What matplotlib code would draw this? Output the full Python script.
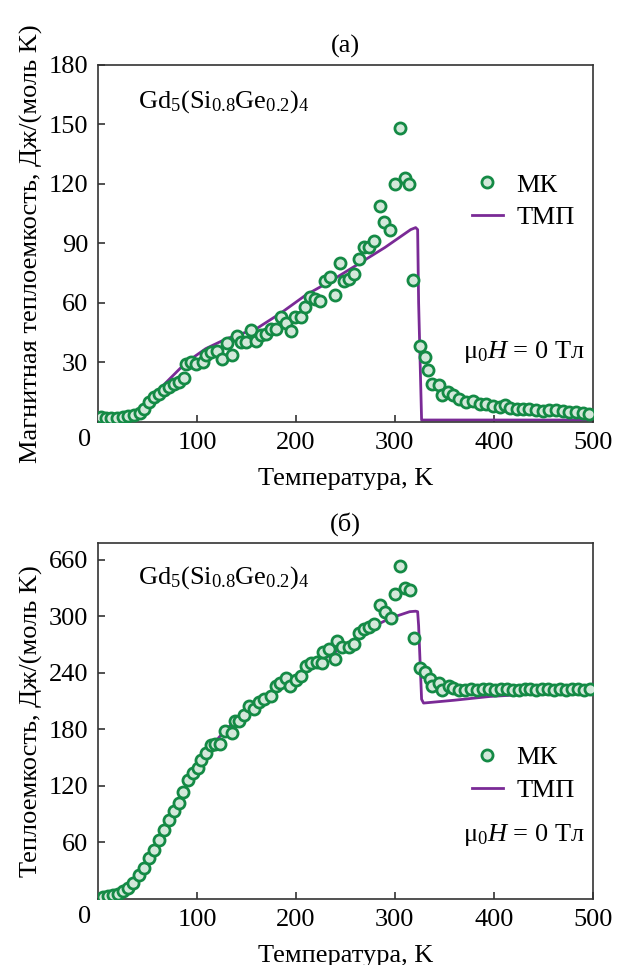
import matplotlib
matplotlib.use("Agg")
import matplotlib.pyplot as plt

plt.rcParams['font.family'] = ['Liberation Serif', 'DejaVu Serif']
plt.rcParams['mathtext.fontset'] = 'custom'
plt.rcParams['mathtext.rm'] = 'Liberation Serif'
plt.rcParams['mathtext.it'] = 'Liberation Serif:italic'
FS = 19
plt.rcParams['font.size'] = FS

# (а) магнитная теплоемкость, МК
t_mag = [3, 8, 13, 19, 25, 30, 36, 42, 47, 52, 57, 62, 67, 72, 77, 82, 87, 89, 94, 99, 106, 109,
         114, 120, 125, 130, 135, 140, 145, 150, 155, 160, 165, 170, 175, 180, 185, 190, 195, 199,
         205, 209, 214, 219, 224, 229, 234, 240, 245, 249, 254, 259, 264, 269, 274, 279, 285, 289,
         295, 300, 305, 310, 314, 318, 325, 330, 333, 338, 345, 348, 354, 359, 365, 372, 379, 386,
         392, 399, 406, 411, 416, 423, 429, 436, 443, 450, 456, 463, 470, 476, 483, 490, 496]
c_mag = [2.5, 2.2, 2.2, 2.2, 2.5, 3.0, 3.5, 4.7, 6.7, 10, 12.6, 14, 16, 17.6, 19, 20.4, 22, 29, 30,
         29, 30, 34, 35.5, 36, 32, 40, 34, 43.6, 40.5, 40.5, 46.6, 41, 44, 44.4, 47, 47, 53, 50,
         46, 53, 53, 58, 63, 62, 61, 71, 73, 64, 80, 71, 72, 74.6, 82, 88, 88, 91, 109, 101, 97,
         120, 148, 123, 120, 71.6, 38.5, 32.7, 26, 19, 18.8, 13.7, 15, 13.7, 11.7, 10, 10.4, 9.2,
         8.9, 7.9, 7.5, 8.4, 7, 6.7, 6.7, 6.7, 5.9, 5.4, 5.9, 5.9, 5.4, 5, 5, 4.5, 4.2]

# (а) ТМП
t_mag_tmp = [2, 25, 40, 59, 75, 89, 109, 130, 160, 185, 210, 235, 261, 290, 316, 321, 323, 324, 327, 500]
c_mag_tmp = [1, 1, 6, 15, 23, 30, 37, 42, 47, 55, 64, 71, 79, 88, 97, 98, 97, 60, 1, 1]

# (б) теплоемкость, МК
t_tot = [5, 10, 15, 20, 25, 30, 35, 41, 47, 52, 57, 62, 67, 72, 77, 82, 86, 91, 96, 101, 104, 109,
         114, 118, 123, 128, 135, 138, 143, 148, 153, 158, 163, 168, 175, 180, 184, 190, 194, 200,
         205, 210, 215, 221, 226, 227, 233, 240, 242, 247, 254, 259, 264, 269, 274, 279, 285, 290,
         296, 300, 305, 310, 315, 319, 325, 330, 335, 338, 345, 348, 355, 359, 365, 371, 377, 383,
         389, 395, 401, 407, 413, 419, 425, 431, 437, 443, 449, 455, 461, 467, 473, 479, 485, 491, 497]
c_tot = [2, 3.5, 4.6, 5.7, 8, 11.7, 17, 25, 33, 43.6, 52, 63, 73, 83.6, 93, 102, 114, 126, 134, 139,
         148, 155, 163, 165, 165, 178, 176, 189, 189, 195, 205, 202, 209, 212.6, 215, 226, 229, 235,
         226, 233, 237, 247, 251, 251.5, 250, 262, 265, 255, 274, 267, 267, 271, 282, 287, 289, 291.6,
         312, 305, 298, 324, 354, 330, 328, 277, 245.5, 241, 234, 226, 229, 222, 226, 224, 222, 222,
         223, 222, 222.5, 223, 222, 222.5, 223, 222, 222, 222.5, 223, 222, 222.5, 223, 222, 223,
         222, 222.5, 223, 222, 222.5]

# (б) ТМП
t_tot_tmp = [2, 25, 35, 47, 59, 72, 86, 99, 112, 126, 143, 160, 177, 194, 210, 227, 244, 261, 278,
             295, 315, 321, 323, 324, 327, 329, 360, 396, 429, 500]
c_tot_tmp = [1, 3.5, 10, 31, 56, 84, 113, 137, 159, 176, 194, 208, 221, 233, 244, 254, 265, 277, 289,
             298, 305, 305.5, 305, 290, 212, 208, 211, 215, 217, 218]

green = '#148a45'
face = '#d3e8da'
purple = '#7a2a96'

fig = plt.figure(figsize=(6.32, 9.65), dpi=100)
ax1 = fig.add_axes([0.155, 0.5627, 0.783, 0.370])
ax2 = fig.add_axes([0.155, 0.0684, 0.783, 0.369])


def style(ax):
    for s in ax.spines.values():
        s.set_color('#333333')
        s.set_linewidth(1.2)
    ax.tick_params(direction='in', length=5, width=1.2, color='#333333', pad=7, labelsize=FS)
    ax.set_xlim(0, 500)
    ax.set_xticks([100, 200, 300, 400, 500])
    ax.text(-0.028, -0.05, '0', transform=ax.transAxes, ha='center', va='center', fontsize=FS)
    ax.set_xlabel('Температура, K', fontsize=FS, labelpad=10)


def legend(ax, y):
    h, l = ax.get_legend_handles_labels()
    ax.legend(h[::-1], l[::-1], loc='upper left', bbox_to_anchor=(0.755, y), frameon=False,
              borderaxespad=0, borderpad=0, handlelength=1.2, handletextpad=0.5,
              labelspacing=0.35, fontsize=FS)


ax1.plot(t_mag_tmp, c_mag_tmp, color=purple, lw=2, label='ТМП', zorder=2)
ax1.plot(t_mag, c_mag, 'o', ms=8, mfc=face, mec=green, mew=2, label='МК', zorder=3)
style(ax1)
ax1.set_ylim(0, 180)
ax1.set_yticks([30, 60, 90, 120, 150, 180])
ax1.set_ylabel('Магнитная теплоемкость, Дж/(моль K)', fontsize=FS, labelpad=4)
ax1.set_title('(а)', fontsize=FS, pad=9)
ax1.text(0.081, 0.896, 'Gd$_5$(Si$_{0.8}$Ge$_{0.2}$)$_4$', transform=ax1.transAxes,
         va='center', fontsize=FS)
ax1.text(0.737, 0.196, 'μ$_0$$H$ = 0 Тл', transform=ax1.transAxes, va='center', fontsize=FS)
legend(ax1, 0.697)

ax2.plot(t_tot_tmp, c_tot_tmp, color=purple, lw=2, label='ТМП', zorder=2)
ax2.plot(t_tot, c_tot, 'o', ms=8, mfc=face, mec=green, mew=2, label='МК', zorder=3)
style(ax2)
ax2.set_ylim(0, 378)
ax2.set_yticks([60, 120, 180, 240, 300, 360])
ax2.set_yticklabels(['60', '120', '180', '240', '300', '660'])
ax2.set_ylabel('Теплоемкость, Дж/(моль K)', fontsize=FS, labelpad=4)
ax2.set_title('(б)', fontsize=FS, pad=9)
ax2.text(0.081, 0.902, 'Gd$_5$(Si$_{0.8}$Ge$_{0.2}$)$_4$', transform=ax2.transAxes,
         va='center', fontsize=FS)
ax2.text(0.737, 0.18, 'μ$_0$$H$ = 0 Тл', transform=ax2.transAxes, va='center', fontsize=FS)
legend(ax2, 0.43)

fig.savefig('out.png', dpi=100)
